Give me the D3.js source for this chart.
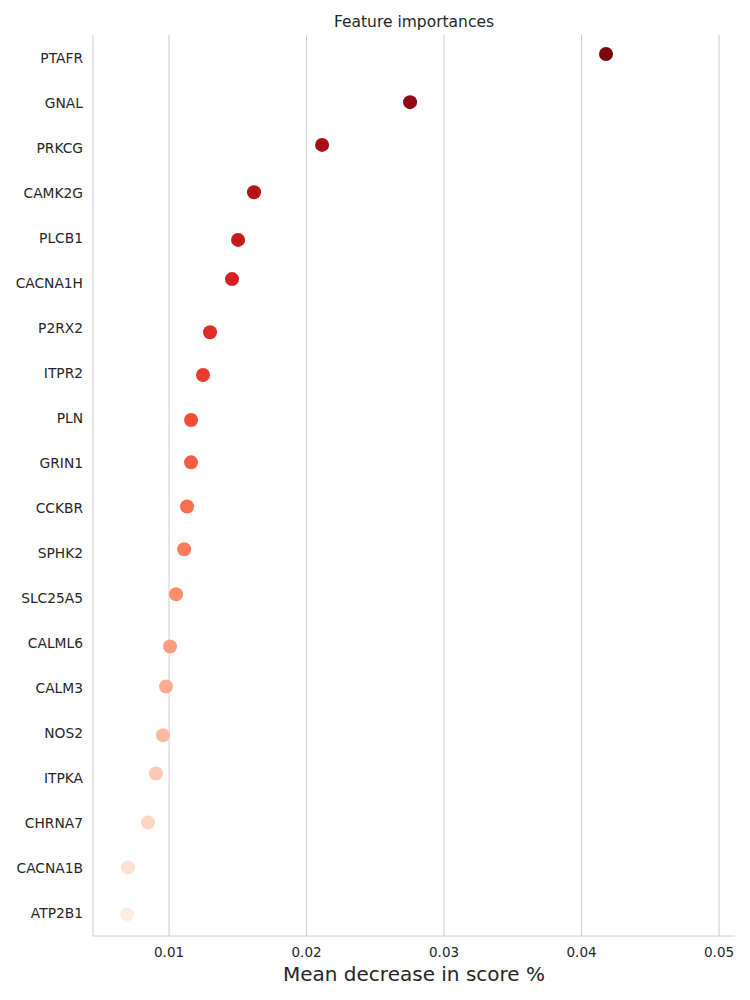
<!DOCTYPE html>
<html lang="en">
<head>
<meta charset="UTF-8">
<title>Feature importances</title>
<script src="https://d3js.org/d3.v7.min.js"></script>
<style>
  body { margin: 0; background: #fff; font-family: 'DejaVu Sans', sans-serif; }
</style>
</head>
<body>
<svg id="chart" width="750" height="1000"></svg>
<script>
const features = ["PTAFR","GNAL","PRKCG","CAMK2G","PLCB1","CACNA1H","P2RX2","ITPR2","PLN","GRIN1",
  "CCKBR","SPHK2","SLC25A5","CALML6","CALM3","NOS2","ITPKA","CHRNA7","CACNA1B","ATP2B1"];
const importances = [0.04178,0.02753,0.02113,0.01618,0.01502,0.01458,0.01298,0.01247,0.0116,0.0116,
  0.01131,0.0111,0.01051,0.01007,0.00978,0.00956,0.00905,0.00847,0.00702,0.00695];
// strip jitter, as a fraction of the row height
const jitter = [-0.09,-0.02,-0.07,-0.02,0.04,-0.09,0.09,0.04,0.04,-0.02,-0.04,-0.09,-0.09,0.07,-0.04,0.04,-0.11,-0.02,-0.02,0.02];
const xTicks = [0.01,0.02,0.03,0.04,0.05];

const svg = d3.select("#chart");
const m = {top: 35, right: 15, bottom: 64, left: 93};
const W = 750, H = 1000;

const x = d3.scaleLinear().domain([0.00447, 0.05116]).range([m.left, W - m.right]);
const y = d3.scaleBand().domain(features).range([m.top + 0.5, H - m.bottom]).padding(0);

// grid
svg.append("g").selectAll("line").data(xTicks).enter().append("line")
  .attr("x1", d => x(d)).attr("x2", d => x(d))
  .attr("y1", m.top).attr("y2", H - m.bottom)
  .attr("stroke", "#cccccc").attr("stroke-width", 1);

// spines
svg.append("line").attr("x1", m.left).attr("x2", m.left).attr("y1", m.top).attr("y2", H - m.bottom)
  .attr("stroke", "#cccccc");
svg.append("line").attr("x1", m.left).attr("x2", W - m.right).attr("y1", H - m.bottom).attr("y2", H - m.bottom)
  .attr("stroke", "#cccccc");

// x tick labels
svg.append("g").selectAll("text").data(xTicks).enter().append("text")
  .attr("x", d => x(d)).attr("y", H - m.bottom + 21)
  .attr("text-anchor", "middle").attr("font-size", 13.5).attr("fill", "#262626")
  .text(d => d3.format(".2f")(d));

// y labels
svg.append("g").selectAll("text").data(features).enter().append("text")
  .attr("x", m.left - 10).attr("y", d => y(d) + y.bandwidth() / 2 + 5)
  .attr("text-anchor", "end").attr("font-size", 13.8).attr("fill", "#262626")
  .text(d => d);

// points
const n = features.length;
svg.append("g").selectAll("circle").data(features).enter().append("circle")
  .attr("cx", (d, i) => x(importances[i]))
  .attr("cy", (d, i) => y(d) + y.bandwidth() * (0.5 + jitter[i]))
  .attr("r", 7)
  .attr("fill", (d, i) => d3.interpolateReds(0.96 - 0.9 * i / (n - 1)));

svg.append("text").attr("x", (m.left + W - m.right) / 2).attr("y", 27)
  .attr("text-anchor", "middle").attr("font-size", 15.5).attr("fill", "#262626")
  .text("Feature importances");

svg.append("text").attr("x", (m.left + W - m.right) / 2).attr("y", 981)
  .attr("text-anchor", "middle").attr("font-size", 20).attr("fill", "#262626")
  .text("Mean decrease in score %");
</script>
</body>
</html>
